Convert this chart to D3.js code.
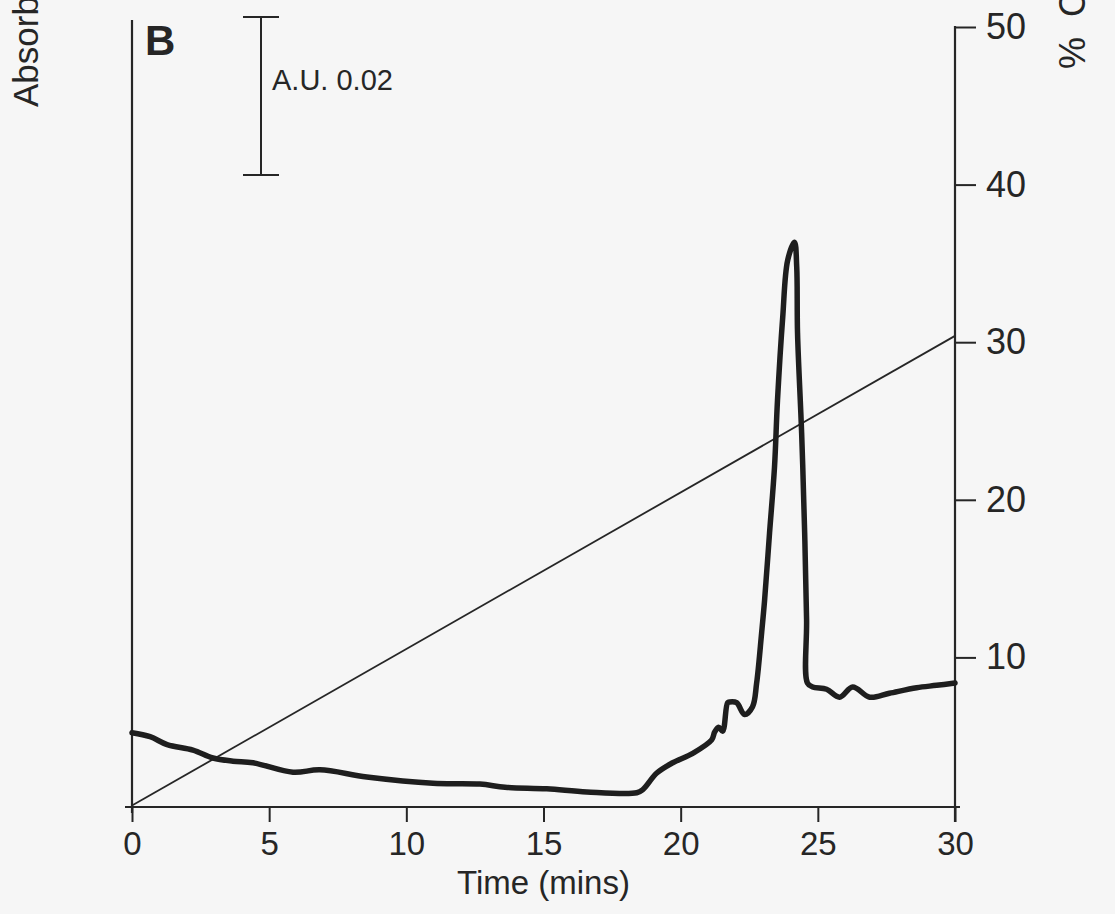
<!DOCTYPE html>
<html>
<head>
<meta charset="utf-8">
<script src="https://cdn.jsdelivr.net/npm/d3@7"></script>
<style>
  html, body { margin: 0; padding: 0; background: #f6f6f6; }
  svg { display: block; font-family: "Liberation Sans", Arial, Helvetica, sans-serif; }
</style>
</head>
<body>
<div id="canvas"></div>
<script>
const W = 1115
const H = 914

// absorbance trace (time in mins, absorbance in A.U. above baseline)
const traceTime = [0, 0.66, 1.28, 2.22, 2.95, 3.68, 4.41, 5.87, 6.85, 8.56, 10.97, 12.68, 13.6, 15.12, 16.58, 18.4,
  18.62, 19.13, 19.71, 20.44, 21.13, 21.24, 21.38, 21.53, 21.71, 21.79, 22.04, 22.33, 22.62, 22.77, 22.95, 23.06,
  23.24, 23.42, 23.53, 23.72, 23.9, 24.15, 24.23, 24.26, 24.41, 24.52, 24.59, 24.62, 24.81, 25.32, 25.79, 26.27,
  26.89, 27.61, 28.6, 29.33, 30]
const traceAbs = [0.0094, 0.0089, 0.0079, 0.0072, 0.0062, 0.0058, 0.0056, 0.0044, 0.0047, 0.0038, 0.0030, 0.0029, 0.0025, 0.0023, 0.0019, 0.0018,
  0.0022, 0.0043, 0.0056, 0.0068, 0.0085, 0.0095, 0.0101, 0.0096, 0.0132, 0.0133, 0.0132, 0.0117, 0.0127, 0.0157, 0.0220, 0.0262,
  0.0347, 0.0430, 0.0515, 0.0620, 0.0692, 0.0715, 0.0684, 0.0600, 0.0473, 0.0347, 0.0237, 0.0157, 0.0152, 0.0149, 0.0139, 0.0152,
  0.0139, 0.0144, 0.0151, 0.0154, 0.0157]

// solvent gradient (% C...)
const gradTime = [0, 30]
const gradPct = [0.6, 30.4]

const xTicks = [0, 5, 10, 15, 20, 25, 30]
const rightTicks = [10, 20, 30, 40, 50]
const scaleBar = [0.08, 0.10]   // 0.02 A.U.

const svg = d3.select('#canvas')
  .append('svg')
  .attr('width', W)
  .attr('height', H);

const x = d3.scaleLinear().domain([0, 30]).range([132, 955]);
const yAbs = d3.scaleLinear().domain([0, 0.1]).range([807, 17]);
const yPct = d3.scaleLinear().domain([0, 50]).range([815, 27]);
const baseY = 807;
const ink = '#262626';

// x axis
const xAxis = d3.axisBottom(x)
  .tickValues(xTicks)
  .tickSize(15)
  .tickSizeOuter(0)
  .tickPadding(10);
const xg = svg.append('g')
  .attr('transform', `translate(0, ${baseY})`)
  .call(xAxis);
xg.select('.domain').remove();
xg.selectAll('line').attr('stroke', ink).attr('stroke-width', 2);
xg.selectAll('text')
  .attr('fill', ink)
  .attr('font-size', 33)
  .attr('font-family', '"Liberation Sans", Arial, sans-serif');
svg.append('line')
  .attr('x1', x(0) - 7).attr('x2', x(30) + 5)
  .attr('y1', baseY).attr('y2', baseY)
  .attr('stroke', ink).attr('stroke-width', 2.2);

// left axis (no ticks)
svg.append('line')
  .attr('x1', x(0)).attr('x2', x(0))
  .attr('y1', 20).attr('y2', baseY + 6)
  .attr('stroke', ink).attr('stroke-width', 2.2);

// right axis
const rAxis = d3.axisRight(yPct)
  .tickValues(rightTicks)
  .tickSize(21)
  .tickSizeOuter(0)
  .tickPadding(10);
const rg = svg.append('g')
  .attr('transform', `translate(${x(30)}, 0)`)
  .call(rAxis);
rg.select('.domain').remove();
rg.selectAll('line').attr('stroke', ink).attr('stroke-width', 2);
rg.selectAll('text')
  .attr('fill', ink)
  .attr('font-size', 36)
  .attr('font-family', '"Liberation Sans", Arial, sans-serif');
svg.append('line')
  .attr('x1', x(30)).attr('x2', x(30))
  .attr('y1', yPct(50) - 1).attr('y2', baseY + 15)
  .attr('stroke', ink).attr('stroke-width', 2.2);

// gradient line
const gradData = gradTime.map((t, i) => ({t: t, v: gradPct[i]}));
svg.append('path')
  .datum(gradData)
  .attr('fill', 'none')
  .attr('stroke', ink)
  .attr('stroke-width', 1.8)
  .attr('d', d3.line().x(d => x(d.t)).y(d => yPct(d.v)));

// absorbance trace
const traceData = traceTime.map((t, i) => ({t: t, a: traceAbs[i]}));
svg.append('path')
  .datum(traceData)
  .attr('fill', 'none')
  .attr('stroke', '#1e1e1e')
  .attr('stroke-width', 5.5)
  .attr('stroke-linejoin', 'round')
  .attr('stroke-linecap', 'round')
  .attr('d', d3.line().curve(d3.curveCatmullRom.alpha(0.5)).x(d => x(d.t)).y(d => yAbs(d.a)));

// scale bar
const sbX = 261;
const sb = svg.append('g').attr('stroke', ink).attr('stroke-width', 2);
sb.append('line').attr('x1', sbX).attr('x2', sbX).attr('y1', yAbs(scaleBar[0])).attr('y2', yAbs(scaleBar[1]));
scaleBar.forEach(v => {
  sb.append('line').attr('x1', sbX - 18).attr('x2', sbX + 18).attr('y1', yAbs(v)).attr('y2', yAbs(v));
});
svg.append('text')
  .attr('x', 272).attr('y', 90)
  .attr('font-size', 29)
  .attr('fill', ink)
  .text('A.U. 0.02');

// panel letter
svg.append('text')
  .attr('x', 145).attr('y', 55)
  .attr('font-size', 42)
  .attr('font-weight', 'bold')
  .attr('fill', ink)
  .text('B');

// axis titles
svg.append('text')
  .attr('x', x(15)).attr('y', 894)
  .attr('text-anchor', 'middle')
  .attr('font-size', 33)
  .attr('fill', ink)
  .text('Time (mins)');

svg.append('text')
  .attr('transform', 'translate(38, 107) rotate(-90)')
  .attr('font-size', 35)
  .attr('fill', ink)
  .text('Absorbance (214 nm)');

svg.append('text')
  .attr('transform', 'translate(1085, 69) rotate(-90)')
  .attr('font-size', 36)
  .attr('fill', ink)
  .attr('xml:space', 'preserve')
  .text('%  CH₃CN');
</script>
</body>
</html>
